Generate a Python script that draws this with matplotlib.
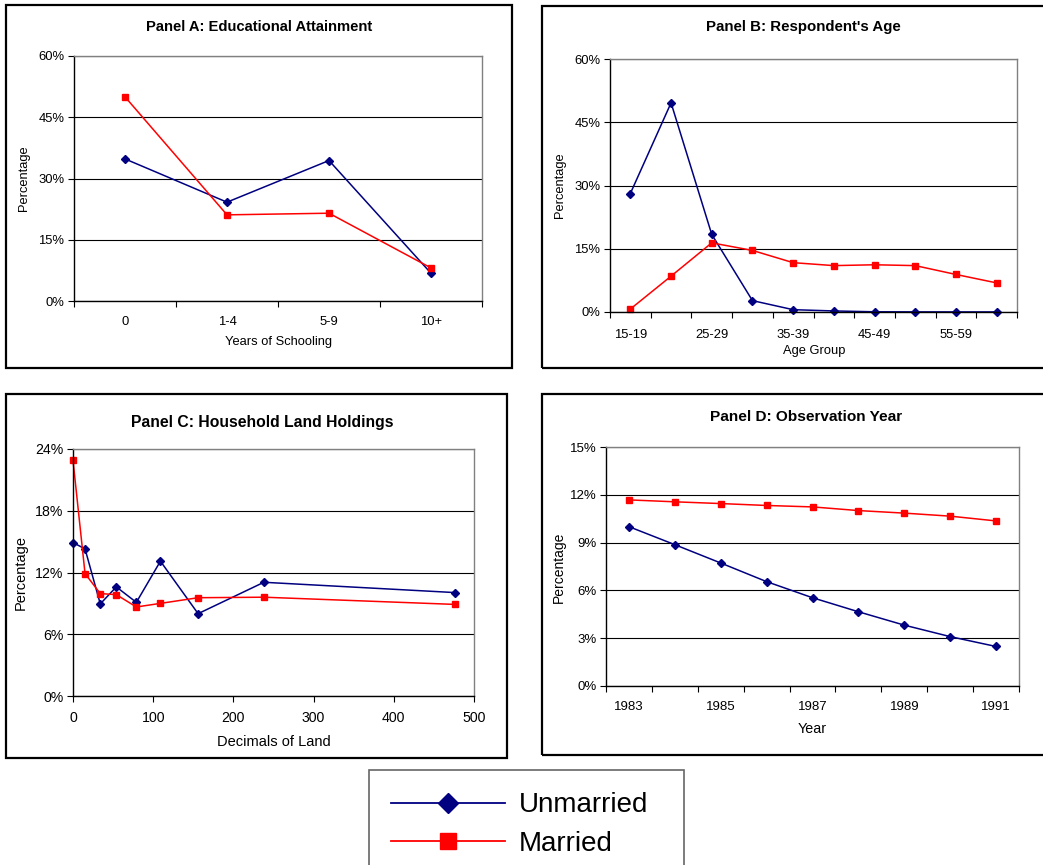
import numpy as np
import matplotlib
matplotlib.use("Agg")
import matplotlib.pyplot as plt
from matplotlib.lines import Line2D
from matplotlib.patches import Rectangle
from matplotlib.ticker import FuncFormatter

plt.rcParams['font.family'] = ['Liberation Sans', 'DejaVu Sans']

# ---- data (percentages) ----
edu_cats = ["0", "1-4", "5-9", "10+"]
edu_unmarried = [34.8, 24.2, 34.4, 6.8]
edu_married = [50.0, 21.1, 21.5, 8.1]

age_cats = ["15-19", "20-24", "25-29", "30-34", "35-39",
            "40-44", "45-49", "50-54", "55-59", "60-64"]
age_unmarried = [28.1, 49.6, 18.4, 2.7, 0.55, 0.25, 0.05, 0.03, 0.02, 0.02]
age_married = [0.7, 8.5, 16.4, 14.6, 11.7, 11.0, 11.2, 11.0, 8.9, 6.9]

land_x = [0, 15, 34, 54, 79, 109, 156, 238, 476]
land_unmarried = [14.9, 14.3, 8.95, 10.6, 9.1, 13.1, 8.0, 11.05, 10.05]
land_married = [22.9, 11.9, 9.95, 9.85, 8.65, 9.0, 9.55, 9.6, 8.9]

years = ["1983", "1984", "1985", "1986", "1987", "1988", "1989", "1990", "1991"]
year_unmarried = [10.0, 8.87, 7.72, 6.55, 5.54, 4.66, 3.82, 3.10, 2.48]
year_married = [11.68, 11.56, 11.45, 11.33, 11.24, 11.01, 10.85, 10.66, 10.36]

NAVY = "#000080"
RED = "#ff0000"

W, H = 1043, 865
fig = plt.figure(figsize=(W / 100, H / 100), dpi=100)


def box(x0, y0, x1, y1):
    # pixel box (top-left origin) -> figure fraction rect
    return [x0 / W, 1 - y1 / H, (x1 - x0) / W, (y1 - y0) / H]


def fx(x):
    return x / W


def fy(y):
    return 1 - y / H


def frame(x0, y0, x1, y1):
    r = box(x0, y0, x1, y1)
    fig.patches.append(Rectangle((r[0], r[1]), r[2], r[3], transform=fig.transFigure,
                                 fill=False, edgecolor="black", linewidth=1.6))


def style(ax, ymax, ystep, fs):
    ax.set_ylim(0, ymax)
    ax.set_yticks(np.arange(0, ymax + 0.01, ystep))
    ax.yaxis.set_major_formatter(FuncFormatter(lambda v, p: "%d%%" % round(v)))
    ax.yaxis.grid(True, color="black", linewidth=0.8)
    ax.set_axisbelow(True)
    for s in ("top", "right"):
        ax.spines[s].set_color("#808080")
        ax.spines[s].set_linewidth(1.0)
    for s in ("left", "bottom"):
        ax.spines[s].set_color("black")
        ax.spines[s].set_linewidth(1.0)
    ax.tick_params(axis="y", direction="out", length=4, labelsize=fs, pad=3)
    ax.tick_params(axis="x", direction="out", length=4, labelsize=fs)


def lines(ax, x, u, m):
    ax.plot(x, u, color=NAVY, lw=1.1, marker="D", ms=3.6, clip_on=False)
    ax.plot(x, m, color=RED, lw=1.1, marker="s", ms=4.6, clip_on=False)


def cat_axis(ax, n, labels, label_pos, fs, pad):
    ax.set_xlim(-0.5, n - 0.5)
    ax.set_xticks(np.arange(-0.5, n, 1.0))
    ax.set_xticklabels([])
    ax.set_xticks(label_pos, minor=True)
    ax.set_xticklabels(labels, minor=True)
    ax.tick_params(axis="x", which="minor", length=0, labelsize=fs, pad=pad)


# ---- Panel A ----
frame(6, 5, 512, 368)
axA = fig.add_axes(box(74, 56, 482, 301))
lines(axA, range(len(edu_cats)), edu_unmarried, edu_married)
style(axA, 60, 15, 9.4)
cat_axis(axA, len(edu_cats), edu_cats, range(len(edu_cats)), 9.4, 11)
fig.text(fx(259), fy(27), "Panel A: Educational Attainment", ha="center", va="center",
         fontsize=10.6, fontweight="bold")
fig.text(fx(278), fy(342), "Years of Schooling", ha="center", va="center", fontsize=9.3)
fig.text(fx(24), fy(178), "Percentage", ha="center", va="center", rotation=90, fontsize=9.3)

# ---- Panel B ----
frame(542, 6, 1046, 368)
axB = fig.add_axes(box(610, 59, 1017, 312))
lines(axB, range(len(age_cats)), age_unmarried, age_married)
style(axB, 60, 15, 9.4)
cat_axis(axB, len(age_cats), age_cats[::2], range(0, len(age_cats), 2), 9.4, 12)
fig.text(fx(803), fy(27), "Panel B: Respondent's Age", ha="center", va="center",
         fontsize=10.8, fontweight="bold")
fig.text(fx(814), fy(351), "Age Group", ha="center", va="center", fontsize=9.3)
fig.text(fx(560), fy(185), "Percentage", ha="center", va="center", rotation=90, fontsize=9.3)

# ---- Panel C ----
frame(6, 394, 507, 758)
axC = fig.add_axes(box(73, 449, 474, 696))
lines(axC, land_x, land_unmarried, land_married)
style(axC, 24, 6, 10.2)
axC.set_xlim(0, 500)
axC.set_xticks(range(0, 501, 100))
axC.tick_params(axis="x", pad=7)
fig.text(fx(262), fy(423), "Panel C: Household Land Holdings", ha="center", va="center",
         fontsize=11.3, fontweight="bold")
fig.text(fx(274), fy(742), "Decimals of Land", ha="center", va="center", fontsize=10.5)
fig.text(fx(21), fy(573), "Percentage", ha="center", va="center", rotation=90, fontsize=10.5)

# ---- Panel D ----
frame(542, 394, 1046, 755)
axD = fig.add_axes(box(606, 447, 1019, 686))
lines(axD, range(len(years)), year_unmarried, year_married)
style(axD, 15, 3, 9.5)
cat_axis(axD, len(years), years[::2], range(0, len(years), 2), 9.5, 11)
fig.text(fx(806), fy(417), "Panel D: Observation Year", ha="center", va="center",
         fontsize=11.1, fontweight="bold")
fig.text(fx(812), fy(729), "Year", ha="center", va="center", fontsize=10.3)
fig.text(fx(559), fy(567), "Percentage", ha="center", va="center", rotation=90, fontsize=10)

# ---- shared legend ----
handles = [Line2D([], [], color=NAVY, lw=1.3, marker="D", ms=10),
           Line2D([], [], color=RED, lw=1.3, marker="s", ms=11)]
leg = fig.legend(handles, ["Unmarried", "Married"], loc="upper left",
                 bbox_to_anchor=(fx(369), fy(770), fx(684) - fx(369), 0.0),
                 mode="expand", fontsize=20, frameon=True, fancybox=False,
                 handlelength=4.1, handletextpad=0.5, borderpad=0.8,
                 labelspacing=0.45, borderaxespad=0)
leg.get_frame().set_edgecolor("#404040")
leg.get_frame().set_linewidth(1.2)

fig.savefig("out.png", dpi=100)
